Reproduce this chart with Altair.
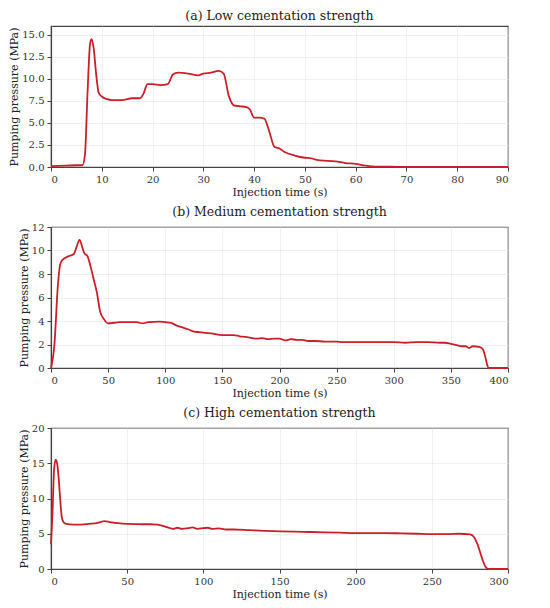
import altair as alt
import pandas as pd

# Panel (a) Low cementation strength
t_a = [0, 3, 5, 6.2, 6.7, 7.2, 7.7, 8.0, 8.4, 8.9, 9.4, 10, 11, 12, 14, 16, 17.5, 18.2, 19, 20, 21.5, 23, 24, 25, 27, 29, 30, 31.5, 33, 34, 35, 36, 37, 38.5, 39.2, 40, 41, 42, 43, 44, 45, 46, 48, 50, 51, 53, 56, 58, 60, 62, 64, 67, 70, 80, 90]
p_a = [0.1, 0.15, 0.2, 0.2, 1.5, 8.5, 14.0, 14.5, 13.5, 10.5, 8.4, 8.0, 7.7, 7.6, 7.6, 7.8, 7.8, 8.3, 9.4, 9.4, 9.3, 9.4, 10.5, 10.7, 10.6, 10.4, 10.6, 10.7, 10.9, 10.6, 8.1, 7.0, 6.9, 6.8, 6.5, 5.6, 5.6, 5.5, 4.0, 2.3, 2.1, 1.7, 1.3, 1.05, 1.0, 0.75, 0.65, 0.45, 0.35, 0.15, 0.05, 0.05, 0.0, 0.0, 0.0]

# Panel (b) Medium cementation strength
t_b = [0, 3, 6, 8, 10, 15, 20, 22, 25, 27, 29, 32, 35, 38, 40, 43, 46, 50, 55, 60, 70, 75, 80, 85, 95, 100, 105, 110, 115, 120, 125, 130, 140, 150, 155, 160, 165, 170, 180, 185, 190, 195, 200, 205, 210, 215, 220, 225, 230, 240, 250, 255, 260, 270, 280, 290, 300, 310, 320, 330, 340, 345, 350, 355, 360, 363, 366, 369, 375, 378, 380, 382, 383, 400]
p_b = [0, 2.0, 7.0, 8.8, 9.2, 9.5, 9.7, 10.2, 10.9, 10.4, 9.8, 9.5, 8.5, 7.3, 6.5, 4.8, 4.2, 3.8, 3.85, 3.9, 3.9, 3.9, 3.8, 3.9, 3.95, 3.9, 3.85, 3.6, 3.45, 3.3, 3.1, 3.05, 2.95, 2.8, 2.8, 2.8, 2.7, 2.65, 2.5, 2.55, 2.45, 2.5, 2.5, 2.35, 2.45, 2.4, 2.4, 2.3, 2.3, 2.25, 2.25, 2.2, 2.2, 2.2, 2.2, 2.2, 2.2, 2.15, 2.2, 2.2, 2.15, 2.15, 2.05, 1.95, 1.85, 1.85, 1.7, 1.85, 1.8, 1.6, 1.0, 0.2, 0.0, 0.0]

# Panel (c) High cementation strength
t_c = [0, 1, 2, 3, 4, 5, 6, 7, 8, 10, 15, 20, 25, 30, 33, 35, 38, 40, 50, 60, 65, 70, 72, 75, 78, 80, 83, 86, 90, 93, 96, 100, 103, 106, 110, 115, 120, 130, 140, 150, 160, 170, 180, 190, 200, 210, 220, 230, 240, 250, 260, 268, 275, 277, 280, 283, 285, 287, 300]
p_c = [3.5, 8.0, 14.0, 15.5, 15.0, 13.0, 10.0, 7.5, 6.7, 6.4, 6.3, 6.3, 6.4, 6.5, 6.7, 6.8, 6.7, 6.6, 6.4, 6.35, 6.35, 6.3, 6.2, 6.0, 5.8, 5.7, 5.85, 5.7, 5.8, 5.9, 5.7, 5.8, 5.85, 5.7, 5.75, 5.6, 5.6, 5.5, 5.4, 5.35, 5.3, 5.25, 5.2, 5.15, 5.1, 5.1, 5.1, 5.05, 5.0, 4.95, 4.95, 5.0, 4.9, 4.7, 3.5, 1.5, 0.4, 0.0, 0.0]

titles = ["(a) Low cementation strength", "(b) Medium cementation strength", "(c) High cementation strength"]
x_ticks = [list(range(0, 91, 10)), list(range(0, 401, 50)), list(range(0, 301, 50))]
y_ticks = [[0, 2.5, 5, 7.5, 10, 12.5, 15], [0, 2, 4, 6, 8, 10, 12], [0, 5, 10, 15, 20]]
x_dom = [[0, 90], [0, 400], [0, 300]]
y_dom = [[0, 16], [0, 12], [0, 20]]
y_fmt = [".1f", "d", "d"]

LINE = "#c8202a"
FONT = "DejaVu Serif"

panels = []
for i, (t, p) in enumerate([(t_a, p_a), (t_b, p_b), (t_c, p_c)]):
    df = pd.DataFrame({"t": t, "p": p})
    ch = alt.Chart(df, title=alt.TitleParams(titles[i], fontSize=12.5, font=FONT, fontWeight="normal", color="#222", offset=4)).mark_line(
        color=LINE, strokeWidth=1.8, interpolate="monotone"
    ).encode(
        x=alt.X("t:Q", scale=alt.Scale(domain=x_dom[i], nice=False, zero=False),
                axis=alt.Axis(title="Injection time (s)", values=x_ticks[i], format="d")),
        y=alt.Y("p:Q", scale=alt.Scale(domain=y_dom[i], nice=False),
                axis=alt.Axis(title="Pumping pressure (MPa)", values=y_ticks[i], format=y_fmt[i])),
    ).properties(width=457, height=141)
    panels.append(ch)

chart = alt.vconcat(*panels, spacing=6).properties(
    padding={"left": 0, "right": 5, "top": 0, "bottom": 0}
).configure_view(
    stroke="#444", strokeWidth=1.2
).configure_axis(
    labelFont=FONT, titleFont=FONT, labelFontSize=10, titleFontSize=11,
    labelColor="#333", titleColor="#222", titleFontWeight="normal",
    gridColor="#e6e6e6", gridWidth=0.6, domainColor="#444", domainWidth=1.2,
    tickColor="#444", tickSize=4, labelPadding=3, titlePadding=2,
)

chart.save("out.html", embed_options={"renderer": "svg", "actions": False})
